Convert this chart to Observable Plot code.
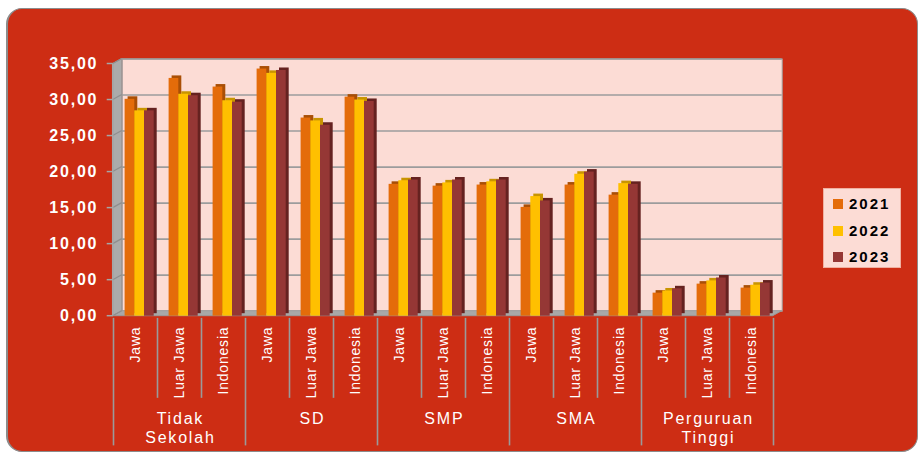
<!DOCTYPE html>
<html><head><meta charset="utf-8">
<script src="https://cdn.jsdelivr.net/npm/d3@7"></script>
<script src="https://cdn.jsdelivr.net/npm/@observablehq/plot@0.6"></script>
<style>
html,body{margin:0;padding:0;background:#fff;}
#wrap{position:relative;width:924px;height:454px;overflow:hidden;}
#bg{position:absolute;left:6px;top:8px;width:912px;height:444px;border-radius:16px;background:#CD2D14;border:1px solid #8c8c8c;border-left:2px solid #8c8c8c;box-sizing:border-box;}
#chart{position:absolute;left:0;top:0;}
#legend{position:absolute;left:823px;top:188px;width:78px;height:80px;background:#FCDCD5;border:1px solid #f0b0a0;box-sizing:border-box;font:bold 15px "Liberation Sans",Arial,sans-serif;letter-spacing:2px;color:#000;}
#legend .sw{position:absolute;left:9px;width:10px;height:10px;}
#legend .lb{position:absolute;left:25px;line-height:15px;}
</style>
</head><body>
<div id="wrap"><div id="bg"></div><div id="chart"></div><div id="legend"></div></div>
<script>
const groups = ["Tidak Sekolah", "SD", "SMP", "SMA", "Perguruan Tinggi"];
const groupLabels = ["Tidak\nSekolah", "SD", "SMP", "SMA", "Perguruan\nTinggi"];
const regions = ["Jawa", "Luar Jawa", "Indonesia"];
const years = ["2021", "2022", "2023"];
const v2021 = [30.1, 33.0, 31.8, 34.3, 27.5, 30.4, 18.3, 18.05, 18.2, 15.1, 18.2, 16.8, 3.2, 4.45, 3.9];
const v2022 = [28.5, 30.8, 29.9, 33.7, 27.1, 30.0, 18.8, 18.5, 18.65, 16.6, 19.7, 18.4, 3.5, 4.9, 4.3];
const v2023 = [28.5, 30.6, 29.7, 34.1, 26.5, 29.8, 18.9, 18.9, 18.9, 16.0, 20.0, 18.3, 3.8, 5.3, 4.6];
const yTicks = [0, 5, 10, 15, 20, 25, 30, 35];
const yTickLabels = ["0,00", "5,00", "10,00", "15,00", "20,00", "25,00", "30,00", "35,00"];

const series = [v2021, v2022, v2023];
const frontColors = ["#E46C0A", "#FFC000", "#953735"];
const sideColors = ["#A94F06", "#C99500", "#652220"];

const keys = [];
groups.forEach(g => regions.forEach(r => keys.push(g + "|" + r)));
const rows = series.map(vals => keys.map((k, i) => ({key: k, region: k.split("|")[1], value: vals[i]})));
const seps = keys.map((k, i) => ({key: k, group: i % 3 === 0}));
const groupRows = groups.map((g, i) => ({key: g + "|" + regions[1], label: groupLabels[i]}));

const W = 924, H = 454, ML = 112.7, MR = 151.3, MT = 63.5, MB = 138.3;
const BW = (W - ML - MR) / keys.length;
const D = 9, E = 5; // depth offset of the back wall
const barW = 9.7, barStart = 11.6;

function walls(index, scales, values, dim) {
  const y = scales.y;
  const x0 = dim.marginLeft, x1 = dim.width - dim.marginRight;
  const y0 = y(0), yT = y(35);
  const g = d3.create("svg:g");
  g.append("path").attr("d", `M${x0},${yT}L${x0+D},${yT-E}L${x0+D},${y0-E}L${x0},${y0}Z`)
    .attr("fill", "#ababab").attr("stroke", "#9a9a9a");
  g.append("path").attr("d", `M${x0},${y0}L${x1},${y0}L${x1+D},${y0-E}L${x0+D},${y0-E}Z`)
    .attr("fill", "#a8a8a8").attr("stroke", "#999");
  for (const v of yTicks) {
    g.append("line").attr("x1", x0).attr("x2", x0 + D).attr("y1", y(v)).attr("y2", y(v) - E)
      .attr("stroke", "#8e8e8e").attr("stroke-width", 1.2);
    g.append("line").attr("x1", x0 - 6).attr("x2", x0).attr("y1", y(v)).attr("y2", y(v))
      .attr("stroke", "#a6a6a6").attr("stroke-width", 1.5);
  }
  g.append("line").attr("x1", x0).attr("x2", x0).attr("y1", yT).attr("y2", y0)
    .attr("stroke", "#a6a6a6").attr("stroke-width", 1.5);
  return g.node();
}

const marks = [
  Plot.frame({fill: "#FCDCD5", stroke: "#a0a0a0", dx: D, dy: -E}),
  Plot.ruleY(yTicks.slice(1), {stroke: "#9c9c9c", strokeWidth: 1.6, dx: D, dy: -E}),
  walls
];
series.forEach((s, i) => {
  const il = barStart + barW * i, ir = BW - il - barW;
  marks.push(Plot.barY(rows[i], {x: "key", y: "value", fill: sideColors[i], insetLeft: il, insetRight: ir, dx: 3, dy: -2.5}));
  marks.push(Plot.barY(rows[i], {x: "key", y: "value", fill: frontColors[i], insetLeft: il, insetRight: ir}));
});
marks.push(
  Plot.text(yTicks, {y: d => d, text: (d, i) => yTickLabels[i], frameAnchor: "left", textAnchor: "end", dx: -14.9, fill: "#fff",
    fontFamily: "Liberation Sans", fontWeight: "bold", fontSize: 16}),
  Plot.text(rows[0], {x: "key", text: "region", frameAnchor: "bottom", rotate: -90, textAnchor: "end", lineAnchor: "middle",
    dy: 10.4, dx: 0, fill: "#fff", fontFamily: "Liberation Sans", fontSize: 14}),
  Plot.ruleX(seps, {x: "key", dx: -BW / 2, y1: -0.3, y2: d => d.group ? -18.0 : -11.4, stroke: "#9a9a9a", strokeWidth: 1.6}),
  Plot.ruleX([keys[keys.length - 1]], {x: d => d, dx: BW / 2, y1: -0.3, y2: -18.0, stroke: "#9a9a9a", strokeWidth: 1.6}),
  Plot.text(groupRows, {x: "key", text: "label", frameAnchor: "bottom", lineAnchor: "top", dy: 95, dx: 0.9, lineHeight: 1.15,
    fill: "#fff", fontFamily: "Liberation Sans", fontSize: 16})
);

const chart = Plot.plot({
  width: W, height: H,
  marginLeft: ML, marginRight: MR, marginTop: MT, marginBottom: MB,
  style: {background: "transparent", overflow: "visible"},
  x: {type: "band", domain: keys, padding: 0, axis: null},
  y: {domain: [0, 35], axis: null},
  marks
});
// letter spacing of the stretched labels
const textGroups = chart.querySelectorAll("g[aria-label='text']");
if (textGroups[0]) textGroups[0].style.letterSpacing = "1.8px";
if (textGroups[1]) textGroups[1].style.letterSpacing = "0.8px";
if (textGroups[2]) textGroups[2].style.letterSpacing = "1.8px";
document.getElementById("chart").appendChild(chart);

const legend = document.getElementById("legend");
years.forEach((yr, i) => {
  const top = 10 + i * 26.7;
  const sw = document.createElement("div");
  sw.className = "sw"; sw.style.top = top + "px"; sw.style.background = frontColors[i];
  legend.appendChild(sw);
  const lb = document.createElement("div");
  lb.className = "lb"; lb.style.top = (top - 3) + "px"; lb.textContent = yr;
  legend.appendChild(lb);
});
</script>
</body></html>
